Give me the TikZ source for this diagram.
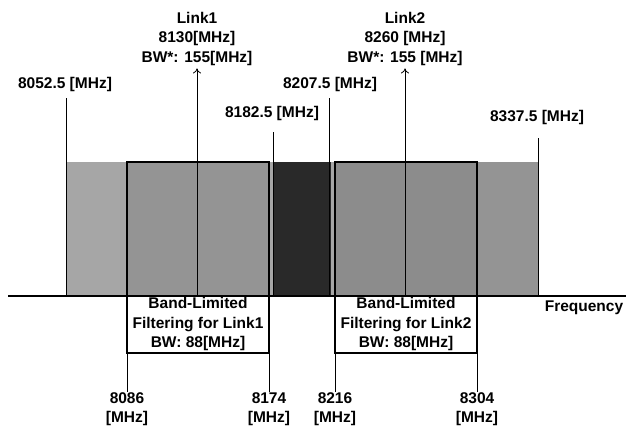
\documentclass[tikz,border=0pt]{standalone}
\usepackage{fontspec}
\setmainfont{Liberation Sans}
\usetikzlibrary{arrows.meta, positioning}

\begin{document}
\begin{tikzpicture}[
  x=1pt, y=-1pt,
  lbl/.style={font=\fontsize{15.5}{19.5}\selectfont\bfseries, align=center, inner sep=0pt},
  filt/.style={rectangle, draw=black, line width=1.6pt, inner sep=0pt, outer sep=0pt},
  tick/.style={draw=black, line width=0.8pt},
  arrow/.style={-{To[length=5pt,width=8pt]}, line width=0.8pt}
]
\useasboundingbox (0,0) rectangle (626,429);

% spectrum
\fill[black!35] (66,162) rectangle (539,296);
\fill[black!42] (127,162) rectangle (269,296);
\fill[black!45] (335,162) rectangle (477,296);
\fill[black!42] (477,162) rectangle (539,296);
\fill[black!84] (273,162) rectangle (331,296);

% axis
\coordinate (origin) at (8,296);
\coordinate (axisend) at (626,296);
\draw[line width=1.4pt] (origin) -- (axisend);
\node[lbl] (freq) at (584,308) {Frequency};

% filter boxes
\node[filt, minimum width=142pt, minimum height=191pt] (fb1) at (198,257.5) {};
\node[filt, minimum width=142pt, minimum height=191pt] (fb2) at (406,257.5) {};
\node[lbl] (ft1) at (198,324) {Band-Limited\\Filtering for Link1\\BW: 88[MHz]};
\node[lbl] (ft2) at (406,324) {Band-Limited\\Filtering for Link2\\BW: 88[MHz]};

% band edges
\node[lbl] (e1) at (65,84) {8052.5 [MHz]};
\node[lbl] (e2) at (272,113) {8182.5 [MHz]};
\node[lbl] (e3) at (330,84) {8207.5 [MHz]};
\node[lbl] (e4) at (537,117) {8337.5 [MHz]};
\draw[tick, shorten <=7pt] (e1.south -| 66,0) -- (66,296);
\draw[tick, shorten <=12pt] (e2.south -| 273,0) -- (273,296);
\draw[tick, shorten <=7pt] (e3.south -| 329,0) -- (329,296);
\draw[tick, shorten <=14pt] (e4.south -| 538,0) -- (538,296);

% filter edges
\node[lbl] (b1) at (127,409) {8086\\{[MHz]}};
\node[lbl] (b2) at (269,409) {8174\\{[MHz]}};
\node[lbl] (b3) at (335,409) {8216\\{[MHz]}};
\node[lbl] (b4) at (477,409) {8304\\{[MHz]}};
\draw[tick] (fb1.south west) -- (b1.north);
\draw[tick] (fb1.south east) -- (b2.north);
\draw[tick] (fb2.south west) -- (b3.north);
\draw[tick] (fb2.south east) -- (b4.north);

% carriers
\node[lbl] (link1) at (197,38.5) {Link1\\8130[MHz]\\BW*: 155[MHz]};
\node[lbl] (link2) at (405,38.5) {Link2\\8260 [MHz]\\BW*: 155 [MHz]};
\draw[arrow, shorten >=3pt] (link1.south |- origin) -- (link1.south);
\draw[arrow, shorten >=3pt] (link2.south |- origin) -- (link2.south);

\end{tikzpicture}
\end{document}
